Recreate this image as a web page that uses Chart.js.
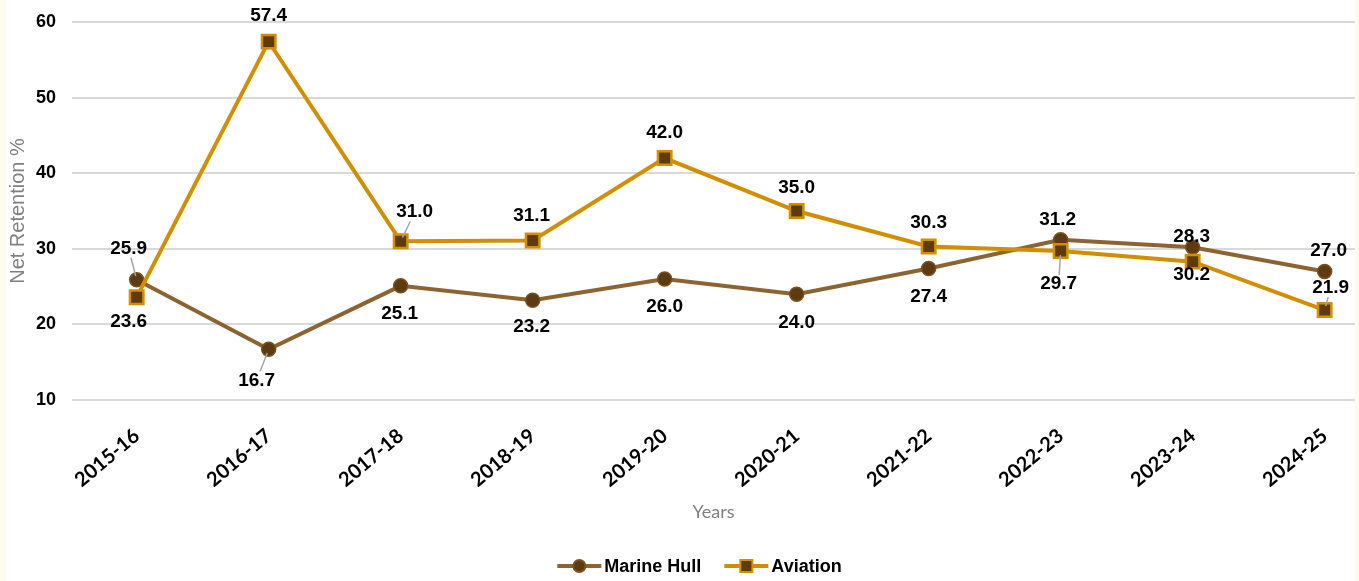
<!DOCTYPE html>
<html>
<head>
<meta charset="utf-8">
<script src="https://cdn.jsdelivr.net/npm/chart.js@4.4.1/dist/chart.umd.min.js"></script>
<style>
  html, body { margin: 0; padding: 0; background: #fdfaf0; }
  #wrap { width: 1359px; height: 581px; position: relative; }
</style>
</head>
<body>
<div id="wrap"><canvas id="retentionChart" width="1359" height="581"></canvas></div>
<script>
// Net retention by line of business, per financial year
const years = ["2015-16", "2016-17", "2017-18", "2018-19", "2019-20",
               "2020-21", "2021-22", "2022-23", "2023-24", "2024-25"];
const marineHull = [25.9, 16.7, 25.1, 23.2, 26.0, 24.0, 27.4, 31.2, 30.2, 27.0];
const aviation = [23.6, 57.4, 31.0, 31.1, 42.0, 35.0, 30.3, 29.7, 28.3, 21.9];
const yTicks = [10, 20, 30, 40, 50, 60];

const MARINE_LINE = "#8c6432";
const MARINE_DOT = "#5e3a10";
const AVIATION_LINE = "#d18f00";
const AVIATION_BOX = "#603a0a";

// label placement per point: [dx, dy, leader line?]
const marineLabelPos = [[-8, -31, true], [-12, 31, true], [-1, 28], [-1, 27], [0, 28],
                        [0, 29], [0, 28], [-3, -20], [-1, 27], [4, -21]];
const aviationLabelPos = [[-8, 25], [0, -26], [14, -29, true], [-1, -25], [0, -25],
                          [0, -23], [0, -24], [-2, 33, true], [-1, -25], [6, -22, true]];

let chartInstance = null;

// value labels with small grey leader lines
const valueLabels = {
    id: "valueLabels",
    afterDatasetsDraw(chart) {
        const ctx = chart.ctx;
        ctx.save();
        ctx.font = "bold 19px 'Liberation Sans', Arial, sans-serif";
        ctx.textAlign = "center";
        ctx.textBaseline = "middle";
        chart.data.datasets.forEach((ds, di) => {
            const meta = chart.getDatasetMeta(di);
            const placement = ds.labelPos;
            meta.data.forEach((pt, i) => {
                const [dx, dy, leader] = placement[i];
                const lx = pt.x + dx, ly = pt.y + dy;
                if (leader) {
                    const len = Math.hypot(dx, dy);
                    const ux = -dx / len, uy = -dy / len;
                    const startOff = 9 / Math.max(Math.abs(uy), 0.3);
                    ctx.strokeStyle = "#a6a6a6";
                    ctx.lineWidth = 1.5;
                    ctx.beginPath();
                    ctx.moveTo(lx + ux * startOff, ly + uy * startOff);
                    ctx.lineTo(pt.x - ux * 4, pt.y - uy * 4);
                    ctx.stroke();
                }
                ctx.fillStyle = "#000";
                ctx.fillText(ds.data[i].y.toFixed(1), lx, ly);
            });
        });
        ctx.restore();
    }
};

// frame and line+marker legend along the bottom
const frameAndLegend = {
    id: "frameAndLegend",
    beforeDraw(chart) {
        const ctx = chart.ctx;
        ctx.save();
        ctx.fillStyle = "#fdfaf0";
        ctx.fillRect(0, 0, chart.width, chart.height);
        ctx.fillStyle = "#ffffff";
        ctx.fillRect(6, 0, 1349, chart.height);
        ctx.restore();
    },
    afterDraw(chart) {
        const ctx = chart.ctx;
        ctx.save();
        ctx.font = "bold 18px 'Liberation Sans', Arial, sans-serif";
        ctx.textBaseline = "middle";
        const y = 566;
        const items = chart.data.datasets.map(ds => ({ ds, w: ctx.measureText(ds.label).width }));
        const total = items.reduce((s, it) => s + 44 + 3 + it.w, 0) + 23 * (items.length - 1);
        let x = chart.width / 2 + 20 - total / 2;
        items.forEach(({ ds, w }) => {
            ctx.strokeStyle = ds.borderColor;
            ctx.lineWidth = 4;
            ctx.beginPath();
            ctx.moveTo(x, y);
            ctx.lineTo(x + 44, y);
            ctx.stroke();
            ctx.fillStyle = ds.pointBackgroundColor;
            ctx.strokeStyle = ds.pointBorderColor;
            ctx.lineWidth = 2;
            ctx.beginPath();
            if (ds.pointStyle === "rect") {
                ctx.rect(x + 22 - 6, y - 6, 12, 12);
            } else {
                ctx.arc(x + 22, y, 6, 0, Math.PI * 2);
            }
            ctx.fill();
            ctx.stroke();
            ctx.fillStyle = "#000";
            ctx.fillText(ds.label, x + 47, y + 1);
            x += 44 + 3 + w + 23;
        });
        ctx.restore();
    }
};

function drawChart() {
    const canvas = document.getElementById("retentionChart");
    if (!canvas) return;
    const ctx = canvas.getContext("2d");
    if (chartInstance) {
        chartInstance.destroy();
        chartInstance = null;
    }

    chartInstance = new Chart(ctx, {
        type: "line",
        data: {
            datasets: [{
                label: "Marine Hull",
                data: marineHull.map((v, i) => ({ x: i, y: v })),
                borderColor: MARINE_LINE,
                backgroundColor: MARINE_LINE,
                borderWidth: 4,
                pointStyle: "circle",
                pointRadius: 7,
                pointBackgroundColor: MARINE_DOT,
                pointBorderColor: "#7a5222",
                pointBorderWidth: 1.5,
                tension: 0,
                order: 1,
                labelPos: marineLabelPos
            }, {
                label: "Aviation",
                data: aviation.map((v, i) => ({ x: i, y: v })),
                borderColor: AVIATION_LINE,
                backgroundColor: AVIATION_LINE,
                borderWidth: 4,
                pointStyle: "rect",
                pointRadius: 9.5,
                pointBackgroundColor: AVIATION_BOX,
                pointBorderColor: AVIATION_LINE,
                pointBorderWidth: 2.5,
                tension: 0,
                order: 0,
                labelPos: aviationLabelPos
            }]
        },
        options: {
            responsive: false,
            animation: false,
            layout: { autoPadding: false, padding: { top: 22, right: 4, bottom: 40, left: 0 } },
            plugins: {
                legend: { display: false },
                tooltip: { enabled: false }
            },
            scales: {
                x: {
                    type: "linear",
                    min: -0.49,
                    max: 9.23,
                    afterBuildTicks: (scale) => {
                        scale.ticks = years.map((_, i) => ({ value: i }));
                    },
                    afterFit: (scale) => {
                        scale.height = 141;
                        scale.paddingLeft = 0;
                        scale.paddingRight = 0;
                    },
                    grid: { display: false, drawTicks: false },
                    border: { display: false },
                    ticks: {
                        autoSkip: false,
                        minRotation: 40,
                        maxRotation: 40,
                        padding: 24,
                        color: "#000",
                        font: { family: "Lato, 'Open Sans', sans-serif", size: 20, weight: "bold" },
                        callback: (v) => years[v]
                    },
                    title: {
                        display: true,
                        text: "Years",
                        color: "#808080",
                        font: { family: "Lato, sans-serif", size: 18 },
                        padding: { top: 0, bottom: 18 }
                    }
                },
                y: {
                    min: 10,
                    max: 60,
                    afterBuildTicks: (scale) => {
                        scale.ticks = yTicks.map(v => ({ value: v }));
                    },
                    afterFit: (scale) => {
                        scale.width = 72;
                        scale.paddingTop = 0;
                        scale.paddingBottom = 0;
                    },
                    grid: { color: "#d9d9d9", lineWidth: 2, drawTicks: false },
                    border: { display: false },
                    ticks: {
                        padding: 16,
                        color: "#000",
                        font: { family: "'Liberation Sans', Arial, sans-serif", size: 18, weight: "bold" }
                    },
                    title: {
                        display: true,
                        text: "Net Retention %",
                        color: "#808080",
                        font: { family: "'Liberation Sans', Arial, sans-serif", size: 20 },
                        padding: { top: 6, bottom: 0 }
                    }
                }
            }
        },
        plugins: [frameAndLegend, valueLabels]
    });
}

document.addEventListener("DOMContentLoaded", drawChart);
</script>
</body>
</html>
